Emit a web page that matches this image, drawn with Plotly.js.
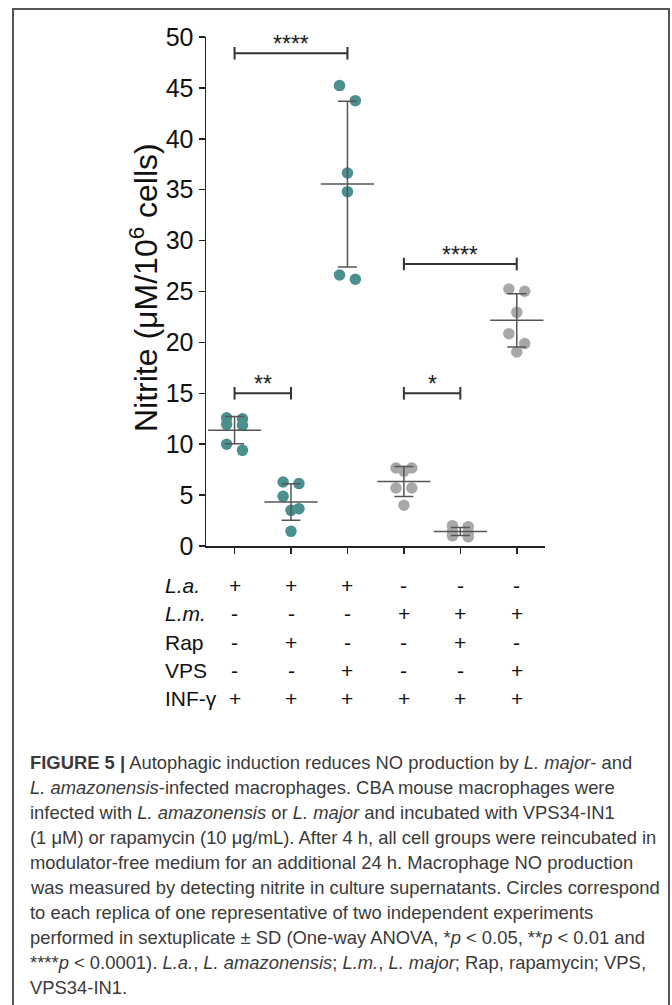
<!DOCTYPE html>
<html>
<head>
<meta charset="utf-8">
<script src="https://cdn.plot.ly/plotly-3.0.1.min.js"></script>
<style>html,body{margin:0;padding:0;background:#fff;}#chart{width:672px;height:1005px;}</style>
</head>
<body>
<div id="chart"></div>
<script>
// ---------------- data ----------------
const groups = ['La', 'La+Rap', 'La+VPS', 'Lm', 'Lm+Rap', 'Lm+VPS'];
const laCtrl = [12.6, 12.5, 11.95, 11.85, 10.0, 9.4];
const laRap  = [6.29, 6.13, 4.88, 3.67, 3.5, 1.44];
const laVps  = [45.23, 43.75, 36.64, 34.81, 26.62, 26.2];
const lmCtrl = [7.66, 7.66, 7.34, 5.7, 5.7, 4.0];
const lmRap  = [2.0, 1.9, 1.4, 1.3, 1.0, 0.9];
const lmVps  = [25.25, 25.02, 22.95, 20.86, 19.88, 19.06];
const groupValues = [laCtrl, laRap, laVps, lmCtrl, lmRap, lmVps];
const groupSpecies = ['La', 'La', 'La', 'Lm', 'Lm', 'Lm'];

const means = [11.38, 4.32, 35.55, 6.33, 1.42, 22.17];
const sds   = [1.33, 1.8, 8.14, 1.47, 0.4, 2.62];

const sigFrom = [0, 3, 0, 3];
const sigTo   = [2, 5, 1, 4];
const sigY    = [48.4, 27.7, 15.0, 15.0];
const sigText = ['****', '****', '**', '*'];

const yTicks = [0, 5, 10, 15, 20, 25, 30, 35, 40, 45, 50];
const yTitle = 'Nitrite (μM/10<sup>6</sup> cells)';

const rowLabels = ['<i>L.a.</i>', '<i>L.m.</i>', 'Rap', 'VPS', 'INF-γ'];
const rowLa  = ['+', '+', '+', '-', '-', '-'];
const rowLm  = ['-', '-', '-', '+', '+', '+'];
const rowRap = ['-', '+', '-', '-', '+', '-'];
const rowVps = ['-', '-', '+', '-', '-', '+'];
const rowInf = ['+', '+', '+', '+', '+', '+'];
const tableRows = [rowLa, rowLm, rowRap, rowVps, rowInf];

const captionLines = [
  '<b>FIGURE 5 |</b> Autophagic induction reduces NO production by <i>L. major</i>- and',
  '<i>L. amazonensis</i>-infected macrophages. CBA mouse macrophages were',
  'infected with <i>L. amazonensis</i> or <i>L. major</i> and incubated with VPS34-IN1',
  '(1 μM) or rapamycin (10 μg/mL). After 4 h, all cell groups were reincubated in',
  'modulator-free medium for an additional 24 h. Macrophage NO production',
  'was measured by detecting nitrite in culture supernatants. Circles correspond',
  'to each replica of one representative of two independent experiments',
  'performed in sextuplicate ± SD (One-way ANOVA, *<i>p</i> < 0.05, **<i>p</i> < 0.01 and',
  '****<i>p</i> < 0.0001). <i>L.a.</i>, <i>L. amazonensis</i>; <i>L.m.</i>, <i>L. major</i>; Rap, rapamycin; VPS,',
  'VPS34-IN1.'
];

// ---------------- layout helpers ----------------
const W = 672, H = 1005;
const M = {l: 206, r: 127, t: 37, b: 459};
const plotW = W - M.l - M.r, plotH = H - M.t - M.b;
const pxX = px => (px - M.l) / plotW;
const pxY = py => (H - M.b - py) / plotH;

const colors = {La: '#4b8f8e', Lm: '#a8a8a8'};
const errColor = '#555555';
const FONT = 'Liberation Sans, Arial, Helvetica, sans-serif';

// simple swarm: neighbouring (sorted) values closer than gap are set side by side
function swarm(vals, gap, half) {
  const idx = vals.map((v, i) => i).sort((a, b) => vals[b] - vals[a]);
  const off = new Array(vals.length).fill(0);
  let k = 0;
  while (k < idx.length) {
    if (k + 1 < idx.length && vals[idx[k]] - vals[idx[k + 1]] < gap) {
      off[idx[k]] = -half; off[idx[k + 1]] = half; k += 2;
    } else { off[idx[k]] = 0; k += 1; }
  }
  return off;
}

const traces = [];
groupValues.forEach((vals, g) => {
  const off = swarm(vals, 1.6, 0.14);
  traces.push({
    type: 'scatter', mode: 'markers', cliponaxis: false, showlegend: false,
    x: vals.map((v, i) => g + off[i]), y: vals,
    marker: {color: colors[groupSpecies[g]], size: 11.5, line: {width: 0}}
  });
});

// mean line + SD whiskers
traces.push({
  type: 'scatter', mode: 'markers', cliponaxis: false, showlegend: false,
  x: groups.map((_, i) => i), y: means,
  marker: {symbol: 'line-ew', size: 38, color: errColor, line: {width: 1.5, color: errColor}},
  error_y: {type: 'data', array: sds, visible: true, color: errColor, thickness: 1.5, width: 9.5}
});

// significance brackets
sigFrom.forEach((a, i) => {
  traces.push({
    type: 'scatter', mode: 'lines+markers', cliponaxis: false, showlegend: false,
    x: [a, sigTo[i]], y: [sigY[i], sigY[i]],
    line: {color: '#333333', width: 2},
    marker: {symbol: 'line-ns', size: 9, color: '#333333', line: {width: 2, color: '#333333'}}
  });
});

const annotations = [];
sigFrom.forEach((a, i) => {
  annotations.push({
    xref: 'x', yref: 'y', x: (a + sigTo[i]) / 2, y: sigY[i],
    text: sigText[i], showarrow: false, xanchor: 'center', yanchor: 'bottom', yshift: -6,
    font: {family: FONT, size: 23, color: '#222'}
  });
});

// y-axis title (rotated)
annotations.push({
  xref: 'paper', yref: 'paper', x: pxX(144), y: pxY(288),
  text: yTitle, textangle: -90, showarrow: false, xanchor: 'center', yanchor: 'middle',
  font: {family: FONT, size: 32, color: '#111'}
});

// condition table
const rowPx = [585, 613.5, 642, 670, 698.5];
rowLabels.forEach((lab, r) => {
  annotations.push({
    xref: 'paper', yref: 'paper', x: pxX(163), y: pxY(rowPx[r]),
    text: lab, showarrow: false, xanchor: 'left', yanchor: 'middle',
    font: {family: FONT, size: 21, color: '#111'}
  });
  tableRows[r].forEach((s, c) => {
    annotations.push({
      xref: 'x', yref: 'paper', x: c, y: pxY(rowPx[r]),
      text: s, showarrow: false, xanchor: 'center', yanchor: 'middle',
      font: {family: FONT, size: 21, color: '#111'}
    });
  });
});

// caption
captionLines.forEach((line, i) => {
  annotations.push({
    xref: 'paper', yref: 'paper', x: pxX(28), y: pxY(762 + 25.1 * i),
    text: line, showarrow: false, xanchor: 'left', yanchor: 'middle', align: 'left',
    font: {family: FONT, size: 18.4, color: '#3a3a3a'}
  });
});

const shapes = [{
  type: 'rect', xref: 'paper', yref: 'paper',
  x0: pxX(13), x1: pxX(669), y0: pxY(9), y1: pxY(1012),
  line: {color: '#555555', width: 2}, fillcolor: 'rgba(0,0,0,0)', layer: 'below'
}];

const layout = {
  width: W, height: H,
  margin: M,
  paper_bgcolor: '#ffffff', plot_bgcolor: '#ffffff',
  showlegend: false,
  font: {family: FONT, color: '#111'},
  xaxis: {
    range: [-0.506, 5.5], tickvals: groups.map((_, i) => i), showticklabels: false,
    showline: true, linecolor: '#222', linewidth: 1.5,
    ticks: 'outside', ticklen: 6, tickwidth: 1.5, tickcolor: '#222',
    showgrid: false, zeroline: false, fixedrange: true
  },
  yaxis: {
    range: [0, 50], tickvals: yTicks, ticktext: yTicks.map(String),
    showline: true, linecolor: '#222', linewidth: 1.5,
    ticks: 'outside', ticklen: 6, tickwidth: 1.5, tickcolor: '#222',
    tickfont: {family: FONT, size: 25, color: '#111'},
    showgrid: false, zeroline: false, fixedrange: true
  },
  annotations: annotations,
  shapes: shapes
};

Plotly.newPlot('chart', traces, layout, {displayModeBar: false, staticPlot: true});
</script>
</body>
</html>
